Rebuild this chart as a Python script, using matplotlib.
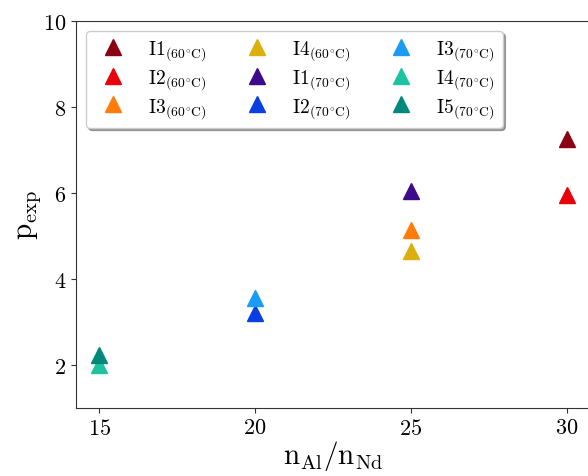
import matplotlib
matplotlib.use('Agg')
import matplotlib.pyplot as plt

plt.rcParams['font.family'] = 'serif'
plt.rcParams['font.serif'] = ['cmr10']
plt.rcParams['mathtext.fontset'] = 'cm'
plt.rcParams['axes.formatter.use_mathtext'] = True

# data
labels = [r'I1$_{(60^{\circ}\mathrm{C})}$', r'I2$_{(60^{\circ}\mathrm{C})}$', r'I3$_{(60^{\circ}\mathrm{C})}$',
          r'I4$_{(60^{\circ}\mathrm{C})}$', r'I1$_{(70^{\circ}\mathrm{C})}$', r'I2$_{(70^{\circ}\mathrm{C})}$',
          r'I3$_{(70^{\circ}\mathrm{C})}$', r'I4$_{(70^{\circ}\mathrm{C})}$', r'I5$_{(70^{\circ}\mathrm{C})}$']
ratio = [30, 30, 25, 25, 25, 20, 20, 15, 15]
p_exp = [7.25, 5.95, 5.14, 4.65, 6.05, 3.21, 3.56, 2.0, 2.23]
colors = ['#8b0012', '#e8000b', '#ff7c0a', '#dbb00c', '#3e0a8c',
          '#0a40e0', '#1a9cf5', '#1fc2a0', '#00887a']

fig = plt.figure(figsize=(5.88, 4.77), dpi=100)
ax = fig.add_axes([76/588, 1 - 409/477, 514/588, 387/477])

for i in range(len(labels)):
    ax.plot(ratio[i], p_exp[i], '^', color=colors[i], markersize=12,
            linestyle='none', label=labels[i])

ax.set_xlim(14.25, 30.75)
ax.set_ylim(1, 10)
ax.set_xticks([15, 20, 25, 30])
ax.set_yticks([2, 4, 6, 8, 10])
ax.tick_params(labelsize=16, color='#333333')
for s in ax.spines.values():
    s.set_color('#333333')
ax.set_xlabel(r'$\mathrm{n_{Al}/n_{Nd}}$', fontsize=21, labelpad=0)
ax.set_ylabel(r'$\mathrm{p_{exp}}$', fontsize=21, labelpad=0)

ax.legend(loc='upper left', ncol=3, fontsize=14, shadow=True, fancybox=True,
          handletextpad=0.8, columnspacing=1.6, labelspacing=0.25,
          bbox_to_anchor=(0.0, 1.0))

fig.savefig('out.png', dpi=100)
